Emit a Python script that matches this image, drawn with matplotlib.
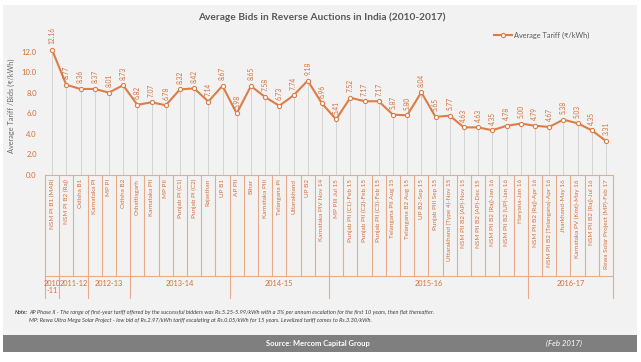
import numpy as np
import matplotlib.pyplot as plt
import matplotlib.transforms as mtransforms
from matplotlib.patches import Rectangle

plt.rcParams['font.family'] = ['Lato', 'DejaVu Sans']

projects = ["NSM PI B1 (MAR)", "NSM PI B2 (Raj)", "Odisha B1",
            "Karnataka PI", "MP PI", "Odisha B2",
            "Chhattisgarh", "Karnataka PII", "MP PII", "Punjab PI (C1)",
            "Punjab PI (C2)", "Rajasthan", "UP B1",
            "AP PII", "Bihar", "Karnataka PIII", "Telangana PI", "Uttarakhand",
            "UP B2", "Karnataka PIV Nov 14",
            "MP PIII Jul 15", "Punjab PII (C1)-Feb 15", "Punjab PII (C2)-Feb 15",
            "Punjab PII (C3)-Feb 15", "Telangana PII Aug 15", "Telangana B2 Aug 15",
            "UP B2-Sep 15", "Punjab PIII Sep 15", "Uttarakhand (Type 4)-Nov 15",
            "NSM PII B2 (AP)-Nov 15", "NSM PII B2 (AP)-Dec 15",
            "NSM PII B2 (Raj)-Jan 16", "NSM PII B2 (UP)-Jan 16", "Haryana-Jan 16",
            "NSM PII B2 (Raj)-Apr 16", "NSM PII B2 (Telangana)-Apr 16",
            "Jharkhand-May 16", "Karnataka PV (Kmt)-May 16",
            "NSM PII B2 (Raj)-Jul 16", "Rewa Solar Project (MP)-Feb 17"]
tariffs = [12.16, 8.77, 8.36, 8.37, 8.01, 8.73, 6.82, 7.07, 6.78, 8.32,
           8.42, 7.14, 8.67, 5.98, 8.65, 7.58, 6.73, 7.74, 9.18, 6.96,
           5.41, 7.52, 7.17, 7.17, 5.87, 5.80, 8.04, 5.65, 5.77, 4.63,
           4.63, 4.35, 4.78, 5.00, 4.79, 4.67, 5.38, 5.03, 4.35, 3.31]
years = ["2010\n-11", "2011-12", "2012-13", "2013-14", "2014-15", "2015-16", "2016-17"]
year_counts = [1, 2, 3, 7, 7, 14, 6]

W, H = 641, 362
def fy(px):
    return 1 - px / H

orange = '#de7c45'
table_col = '#e6ab8a'
text_col = '#d5703a'

fig = plt.figure(figsize=(W / 100, H / 100), dpi=100)
fig.patch.set_facecolor('white')
fig.patches.append(Rectangle((3 / W, fy(335)), 634 / W, 330 / H, transform=fig.transFigure,
                             facecolor='#f2f2f2', edgecolor='none', zorder=-5))
fig.patches.append(Rectangle((3 / W, fy(352)), 634 / W, 17 / H, transform=fig.transFigure,
                             facecolor='#7f7f7f', edgecolor='none', zorder=-5))

ax = fig.add_axes([45 / W, fy(175), 568 / W, 144 / H])
ax.set_facecolor('none')
x = np.arange(len(tariffs)) + 0.5
ax.set_xlim(0, len(tariffs))
ax.set_ylim(0, 14)
for s in ax.spines.values():
    s.set_visible(False)
ax.set_xticks([])
ax.set_yticks(np.arange(0, 13, 2))
ax.set_yticklabels([f"{v:.1f}" for v in np.arange(0, 13, 2)])
ax.tick_params(axis='y', length=0, pad=6, labelsize=5.5, labelcolor=text_col)
ax.set_ylabel("Average Tariff /Bids (₹/kWh)", fontsize=5.3, color='#6a6a6a')
ax.yaxis.set_label_coords(-0.052, 0.48)

ax.vlines(x, 0, tariffs, color='#cfcfcf', lw=0.6, zorder=1)
ax.plot(x, tariffs, color=orange, lw=1.5, marker='o', ms=3, mfc='white', mec=orange,
        mew=0.8, zorder=3, label="Average Tariff (₹/kWh)")
for xi, v in zip(x, tariffs):
    ax.annotate(f"{v:.2f}", (xi, v), xytext=(0, 4), textcoords='offset points',
                rotation=90, ha='center', va='bottom', fontsize=4.8, color=text_col)

leg = ax.legend(loc='upper left', bbox_to_anchor=(487 / W, fy(25)), bbox_transform=fig.transFigure,
                frameon=False, fontsize=5.3, handlelength=2.5, handletextpad=0.3)
for t in leg.get_texts():
    t.set_color('#595959')

# category table below the axis
trans = mtransforms.blended_transform_factory(ax.transData, fig.transFigure)
bounds = np.cumsum([0] + year_counts)
for i in range(len(tariffs) + 1):
    low = 298 if i in bounds else 276
    ax.plot([i, i], [fy(175), fy(low)], color=table_col, lw=0.8, transform=trans, clip_on=False)
ax.plot([0, len(tariffs)], [fy(175), fy(175)], color=table_col, lw=0.8, transform=trans, clip_on=False)
ax.plot([0, len(tariffs)], [fy(276), fy(276)], color=table_col, lw=0.8, transform=trans, clip_on=False)
for xi, name in zip(x, projects):
    ax.text(xi, fy(179), name, rotation=90, ha='center', va='top', fontsize=4.6,
            color=text_col, transform=trans)
for j, yr in enumerate(years):
    cx = (bounds[j] + bounds[j + 1]) / 2
    ax.text(cx, fy(280), yr, ha='center', va='top', fontsize=5.3, color=text_col,
            transform=trans, linespacing=1.0)

fig.text(322 / W, fy(17), "Average Bids in Reverse Auctions in India (2010-2017)", ha='center',
         va='center', fontsize=7.3, fontweight='bold', color='#595959')
fig.text(15 / W, fy(312), "Note:", fontsize=4, style='italic', fontweight='bold',
         color='#404040', va='center')
fig.text(29 / W, fy(312), "AP Phase II - The range of first-year tariff offered by the successful bidders was "
         "Rs.5.25-5.99/kWh with a 3% per annum escalation for the first 10 years, then flat thereafter.",
         fontsize=4.1, style='italic', color='#404040', va='center')
fig.text(29 / W, fy(320), "MP: Rewa Ultra Mega Solar Project - low bid of Rs.2.97/kWh tariff escalating at "
         "Rs.0.05/kWh for 15 years. Levelized tariff comes to Rs.3.30/kWh.",
         fontsize=4.1, style='italic', color='#404040', va='center')
fig.text(318 / W, fy(343.5), "Source: Mercom Capital Group", ha='center', va='center', fontsize=5.4,
         fontweight='bold', color='white')
fig.text(564 / W, fy(343.5), "(Feb 2017)", ha='center', va='center', fontsize=5.6, style='italic',
         color='white')

fig.savefig("out.png", dpi=100)
